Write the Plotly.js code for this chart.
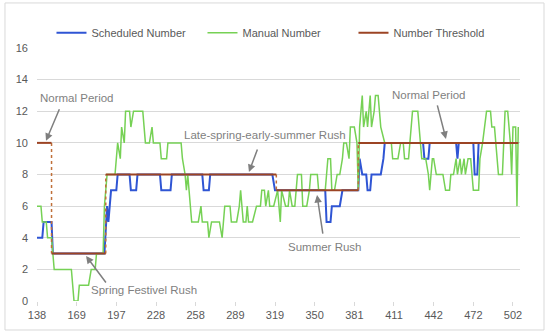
<!DOCTYPE html>
<html>
<head>
<meta charset="utf-8">
<script src="https://cdn.plot.ly/plotly-3.0.1.min.js"></script>
<style>html,body{margin:0;padding:0;background:#fff;}#chart{width:550px;height:336px;}</style>
</head>
<body>
<div id="chart"></div>
<script>
// x = day index along the category axis; tick labels shown below
const tickPos = [0, 30, 60, 90, 120, 150, 180, 210, 240, 270, 300, 330, 360];
const tickLabels = ['138','169','197','228','258','289','319','350','381','411','442','472','502'];

// Scheduled Number (blue)
const schedX = [0,4,5,11,12,51,53,54,56,60,61,70,71,75,76,93,94,101,102,125,126,130,131,178,180,218,219,222,223,229,231,243,244,246,249,250,252,253,260,262,263,292,293,296,297,317,318,319,330,331,333,334,364];
const schedY = [4,4,5,5,3,3,6,5,7,7,8,8,7,7,8,8,7,7,8,8,7,7,8,8,7,7,5,5,6,6,7,7,9,8,8,7,7,8,8,9,10,10,9,9,10,10,9,10,10,8,8,10,10];

// Manual Number (green)
const manualX = [0,3,4,7,8,11,12,13,26,28,31,32,39,41,44,45,50,51,53,59,61,63,64,66,67,70,71,73,80,82,85,87,88,93,94,98,99,109,110,112,113,114,115,117,122,124,125,129,130,132,138,140,142,146,147,151,153,154,156,158,159,160,163,166,169,170,172,173,175,176,179,182,184,185,188,190,191,193,195,197,200,201,204,206,207,212,213,218,220,222,223,225,227,229,231,232,234,236,237,240,242,243,244,246,247,249,250,252,253,255,256,258,260,263,268,269,273,275,277,278,281,282,284,288,290,291,294,296,297,299,300,302,307,309,312,313,315,317,318,320,321,323,324,326,328,330,334,335,337,340,343,344,346,349,352,353,354,356,358,359,360,362,363,364];
const manualY = [6,6,5,5,4,4,3,2,2,0,0,1,1,2,2,3,3,6,8,8,10,9,11,10,12,12,11,12,12,10,10,11,10,10,9,9,10,10,9,8,7,8,7,5,5,6,5,5,4,5,5,4,6,6,5,5,6,7,5,5,6,5,5,6,6,7,7,6,7,6,6,7,5,7,6,6,7,6,6,8,8,6,6,7,8,8,7,7,9,9,7,7,8,8,9,10,10,9,11,11,10,7,11,13,11,12,11,13,11,12,13,13,11,10,10,9,9,10,10,9,9,10,12,12,10,9,9,8,7,9,9,8,8,7,7,8,8,9,8,9,8,9,8,9,9,7,7,9,10,12,12,11,11,8,8,10,12,12,10,8,11,11,6,11];

// Number Threshold (brown) - corner points of the step line
const thrX = [0,11,11,52,52,181,181,243,243,364];
const thrY = [10,10,3,3,8,8,7,7,10,10];

// Build horizontal (solid) and vertical (dotted) pieces from the threshold points
const hx = [], hy = [], vx = [], vy = [];
for (let i = 0; i < thrX.length - 1; i++) {
  if (thrX[i] === thrX[i+1]) { vx.push(thrX[i], thrX[i+1], null); vy.push(thrY[i], thrY[i+1], null); }
  else { hx.push(thrX[i], thrX[i+1], null); hy.push(thrY[i], thrY[i+1], null); }
}

const FONT = 'Liberation Sans, Arial, sans-serif';
const traces = [
  {x: schedX, y: schedY, type: 'scatter', mode: 'lines', name: 'Scheduled Number',
   line: {color: '#2F55D4', width: 2}},
  {x: manualX, y: manualY, type: 'scatter', mode: 'lines', name: 'Manual Number',
   line: {color: '#76D155', width: 1.5}},
  {x: vx, y: vy, type: 'scatter', mode: 'lines', showlegend: false, hoverinfo: 'skip',
   line: {color: '#C0703A', width: 1.5, dash: 'dot'}},
  {x: hx, y: hy, type: 'scatter', mode: 'lines', name: 'Number Threshold', connectgaps: false,
   line: {color: '#9C4424', width: 2}}
];

function arrow(x, y, ax, ay) {
  return {x: x, y: y, xref: 'x', yref: 'y', text: '', showarrow: true, ax: ax, ay: ay,
          arrowhead: 2, arrowsize: 1, arrowwidth: 1.5, arrowcolor: '#7F7F7F'};
}
function label(x, y, t) {
  return {x: x, y: y, xref: 'x', yref: 'y', text: t, showarrow: false,
          font: {family: FONT, size: 11.5, color: '#7F7F7F'}};
}

const layout = {
  width: 550, height: 336,
  margin: {l: 37, r: 30, t: 48, b: 35},
  paper_bgcolor: '#ffffff', plot_bgcolor: '#ffffff',
  font: {family: FONT, size: 11, color: '#595959'},
  showlegend: true,
  legend: {orientation: 'h', x: 0.03, xanchor: 'left', y: 1.06, yanchor: 'middle',
           entrywidth: 106, entrywidthmode: 'pixels', itemwidth: 30,
           font: {family: FONT, size: 11, color: '#595959'}, bgcolor: 'rgba(0,0,0,0)'},
  xaxis: {range: [0, 365.3], tickmode: 'array', tickvals: tickPos, ticktext: tickLabels,
          showgrid: false, zeroline: false, showline: false, ticks: 'outside', ticklen: 4,
          tickcolor: '#D9D9D9', tickfont: {family: FONT, size: 11, color: '#595959'}, fixedrange: true},
  yaxis: {range: [0, 16], tickvals: [0,2,4,6,8,10,12,14,16], showgrid: true, gridcolor: '#D9D9D9',
          gridwidth: 1, zeroline: false, showline: false, ticks: '', ticklabelstandoff: 8,
          tickfont: {family: FONT, size: 11, color: '#595959'}, fixedrange: true},
  annotations: [
    arrow(6.8, 10.13, 14, -33), label(30.3, 12.85, 'Normal Period'),
    arrow(160.3, 8.16, 9, -24), label(172.4, 10.5, 'Late-spring-early-summer Rush'),
    arrow(37.1, 2.85, 21, 28), label(80.9, 0.7, 'Spring Festivel Rush'),
    arrow(211.8, 6.7, 6, 40), label(217.8, 3.42, 'Summer Rush'),
    arrow(309.3, 10.25, -9, -35), label(296.5, 13.04, 'Normal Period')
  ],
  shapes: [
    {type: 'rect', xref: 'paper', yref: 'paper', x0: -0.0663, x1: 1.0497, y0: -0.1146, y1: 1.178,
     line: {color: '#D9D9D9', width: 1}, fillcolor: 'rgba(0,0,0,0)', layer: 'below'}
  ]
};

Plotly.newPlot('chart', traces, layout, {displayModeBar: false, staticPlot: true});
</script>
</body>
</html>
